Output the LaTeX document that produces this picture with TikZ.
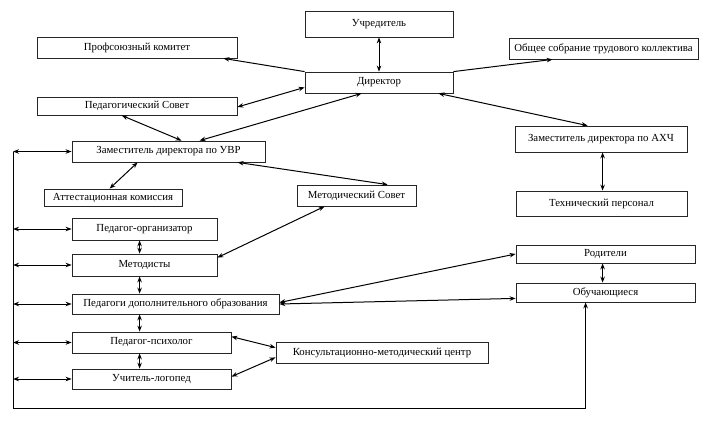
\documentclass[tikz,border=0pt]{standalone}
\usepackage{fontspec}
\setmainfont{Liberation Serif}
\usetikzlibrary{calc,arrows.meta}
\begin{document}
\begin{tikzpicture}[x=1pt,y=-1pt,
  box/.style={draw=black!85,line width=0.8pt,inner sep=0pt,align=center,font=\fontsize{10.8}{12}\selectfont},
  conn/.style={line width=1pt,black},
  >={Stealth[length=6pt,width=4.5pt]}]
\useasboundingbox (0,0) rectangle (706,423);
\fill[white] (0,0) rectangle (706,423);
% boxes
\node[box,minimum width=148pt,minimum height=26pt] (ucr) at (379,24) {Учредитель};
\node[box,minimum width=200pt,minimum height=21pt] (prof) at (137,47.5) {Профсоюзный комитет};
\node[box,minimum width=189pt,minimum height=21pt] (obs) at (603.5,48.5) {Общее собрание трудового коллектива};
\node[box,minimum width=148pt,minimum height=21pt] (dir) at (379,82.5) {Директор};
\node[box,minimum width=200pt,minimum height=18pt] (ped) at (137,106) {Педагогический Совет};
\node[box,minimum width=172pt,minimum height=26pt] (akh) at (601,139) {Заместитель директора по АХЧ};
\node[box,minimum width=193pt,minimum height=21pt] (uvr) at (168.5,151.5) {Заместитель директора по УВР};
\node[box,minimum width=138pt,minimum height=17pt] (att) at (113,197.5) {Аттестационная комиссия};
\node[box,minimum width=119pt,minimum height=21pt] (msov) at (356.5,195.5) {Методический Совет};
\node[box,minimum width=171pt,minimum height=25pt] (tech) at (601.5,203.5) {Технический персонал};
\node[box,minimum width=145pt,minimum height=22pt] (porg) at (144.5,229) {Педагог-организатор};
\node[box,minimum width=145pt,minimum height=22pt] (met) at (144.5,265) {Методисты};
\node[box,minimum width=179pt,minimum height=18pt] (rod) at (605.5,254) {Родители};
\node[box,minimum width=207pt,minimum height=20pt] (pdo) at (175.5,304) {Педагоги дополнительного образования};
\node[box,minimum width=179pt,minimum height=19pt] (obu) at (605.5,292.5) {Обучающиеся};
\node[box,minimum width=159pt,minimum height=21pt] (psy) at (151.5,342.5) {Педагог-психолог};
\node[box,minimum width=212pt,minimum height=21pt] (kmc) at (382,352.5) {Консультационно-методический центр};
\node[box,minimum width=159pt,minimum height=20pt] (log) at (151.5,379) {Учитель-логопед};
\coordinate (bl) at (13,408);
% connectors
\draw[conn,<->] (ucr.south) -- (dir.north);
\draw[conn,->] (dir.north west) -- ($(prof.south east)+(-14,0)$);
\draw[conn,->] (dir.north east) -- ($(obs.south west)+(44,0)$);
\draw[conn,<->] ($(ped.east)+(0,1)$) -- ($(dir.south west)+(0,-6)$);
\draw[conn,<->] ($(dir.south west)+(57,0)$) -- ($(uvr.north west)+(128,0)$);
\draw[conn,<->] ($(ped.south west)+(85,0)$) -- ($(uvr.north west)+(110,0)$);
\draw[conn,<->] ($(dir.south east)+(-15,0)$) -- ($(akh.north west)+(73,0)$);
\draw[conn,<->] ($(akh.south west)+(88,0)$) -- ($(tech.north west)+(87,0)$);
\draw[conn,<->] ($(uvr.south west)+(66,0)$) -- ($(att.north west)+(66,0)$);
\draw[conn,<->] ($(uvr.south west)+(166,0)$) -- ($(msov.north west)+(91,0)$);
\draw[conn,<->] ($(msov.south west)+(28,0)$) -- ($(met.north east)+(0,4)$);
\draw[conn,<->] ($(porg.south west)+(68,0)$) -- ($(met.north west)+(68,0)$);
\draw[conn,<->] ($(met.south west)+(68,0)$) -- ($(pdo.north west)+(68,0)$);
\draw[conn,<->] ($(pdo.south west)+(68,0)$) -- ($(psy.north west)+(68,0)$);
\draw[conn,<->] ($(psy.south west)+(68,0)$) -- ($(log.north west)+(68,0)$);
\draw[conn,<->] ($(pdo.east)+(0,-1.5)$) -- (rod.west);
\draw[conn,<->] (pdo.east) -- ($(obu.south west)+(0,-4)$);
\draw[conn,<->] ($(rod.south west)+(87,0)$) -- ($(obu.north west)+(87,0)$);
\draw[conn,<->] ($(psy.north east)+(0,5)$) -- ($(kmc.north west)+(0,6)$);
\draw[conn,<->] ($(log.north east)+(0,8)$) -- ($(kmc.south west)+(0,-6)$);
% left bus
\draw[conn,->] (bl |- uvr.west) -- (bl) -| ($(obu.south west)+(70,0)$);
\draw[conn,<->] (bl |- uvr.west) -- (uvr.west);
\draw[conn,<->] (bl |- porg.west) -- (porg.west);
\draw[conn,<->] (bl |- met.west) -- (met.west);
\draw[conn,<->] (bl |- pdo.west) -- (pdo.west);
\draw[conn,<->] (bl |- psy.west) -- (psy.west);
\draw[conn,<->] (bl |- log.west) -- (log.west);
\end{tikzpicture}
\end{document}
